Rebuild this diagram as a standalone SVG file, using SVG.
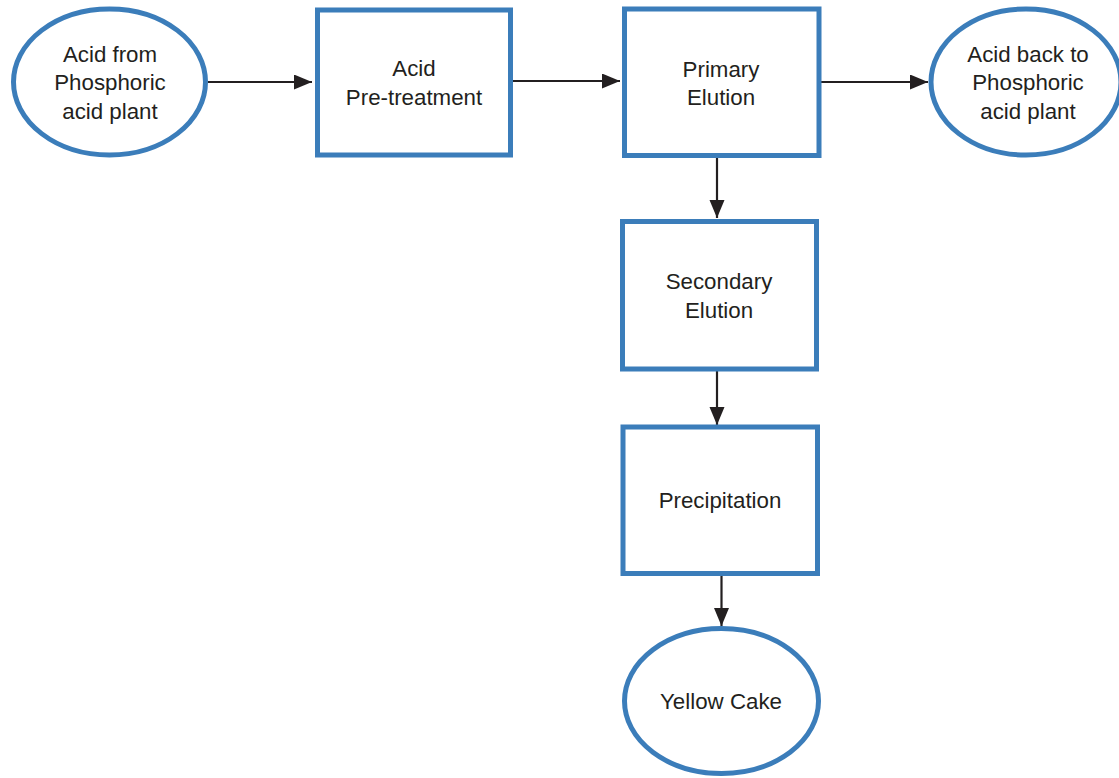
<svg xmlns="http://www.w3.org/2000/svg" width="1119" height="778" viewBox="0 0 1119 778">
<style>
.n{fill:#fff;stroke:#3b7dba;stroke-width:5}
.t{font-family:"Liberation Sans",Arial,sans-serif;font-size:22.3px;fill:#231f20;text-anchor:middle}
.c{stroke:#231f20;stroke-width:2.2;fill:none;marker-end:url(#ah)}
</style>
<defs>
<marker id="ah" markerUnits="userSpaceOnUse" markerWidth="20" markerHeight="16" refX="18" refY="7.5" orient="auto">
<path d="M0,0 L18,7.5 L0,15 Z" fill="#231f20"/>
</marker>
</defs>
<rect width="1119" height="778" fill="#fff"/>
<g id="connectors">
<line class="c" x1="208" y1="82" x2="312" y2="82"/>
<line class="c" x1="512" y1="81" x2="620" y2="81"/>
<line class="c" x1="821" y1="82" x2="928" y2="82"/>
<line class="c" x1="717" y1="157" x2="717" y2="218"/>
<line class="c" x1="717" y1="371" x2="717" y2="425"/>
<line class="c" x1="721.5" y1="576" x2="721.5" y2="626"/>
</g>
<g id="n1">
<ellipse class="n" cx="109.5" cy="82" rx="96" ry="73"/>
<text class="t" x="110" y="61.5">Acid from</text>
<text class="t" x="110" y="90">Phosphoric</text>
<text class="t" x="110" y="118.5">acid plant</text>
</g>
<g id="n2">
<rect class="n" x="317.5" y="10" width="193" height="145"/>
<text class="t" x="414" y="76">Acid</text>
<text class="t" x="414" y="104.5">Pre-treatment</text>
</g>
<g id="n3">
<rect class="n" x="624.5" y="9" width="194.5" height="146.5"/>
<text class="t" x="721" y="76.5">Primary</text>
<text class="t" x="721" y="105">Elution</text>
</g>
<g id="n4">
<ellipse class="n" cx="1026" cy="82" rx="95" ry="73"/>
<text class="t" x="1028" y="62">Acid back to</text>
<text class="t" x="1028" y="90">Phosphoric</text>
<text class="t" x="1028" y="118.5">acid plant</text>
</g>
<g id="n5">
<rect class="n" x="622.5" y="221.5" width="194" height="147.5"/>
<text class="t" x="719" y="288.5">Secondary</text>
<text class="t" x="719" y="317.5">Elution</text>
</g>
<g id="n6">
<rect class="n" x="623" y="427" width="194.5" height="146.5"/>
<text class="t" x="720" y="508">Precipitation</text>
</g>
<g id="n7">
<ellipse class="n" cx="721.5" cy="701" rx="97" ry="72.5"/>
<text class="t" x="721" y="709">Yellow Cake</text>
</g>
</svg>
